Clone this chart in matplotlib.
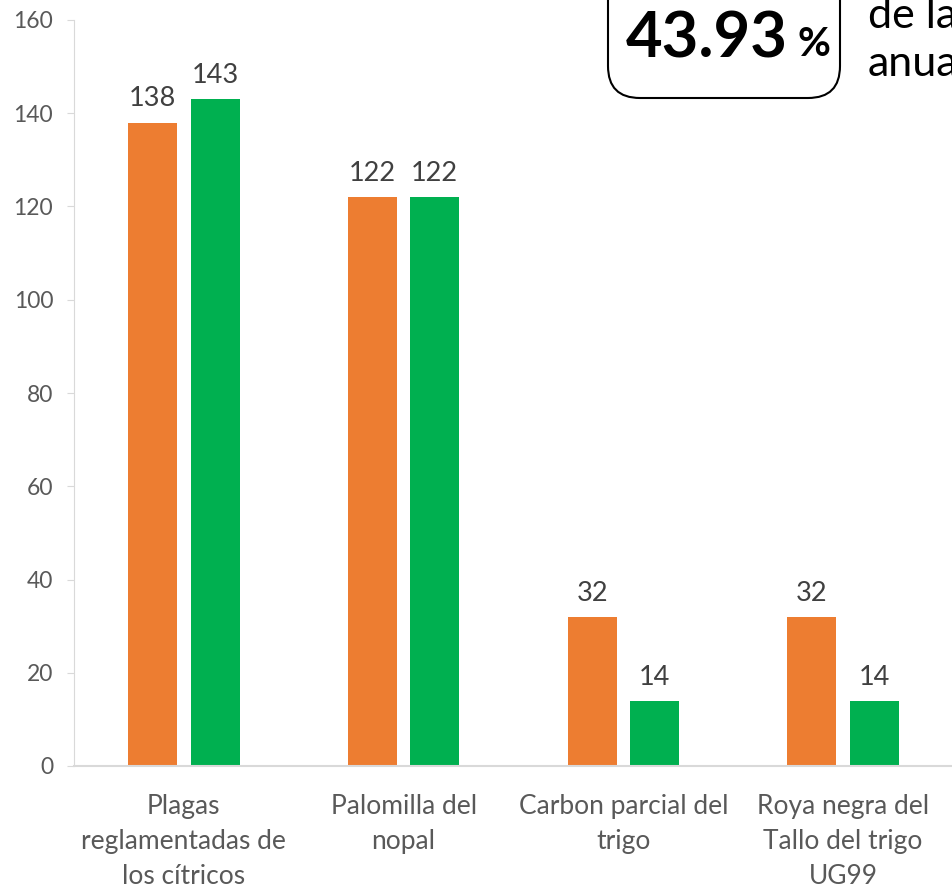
import matplotlib.pyplot as plt
import matplotlib.patches as mpatches
from matplotlib.transforms import IdentityTransform
import numpy as np

plt.rcParams['font.family'] = ['Lato', 'DejaVu Sans']

# Datos
categorias = ['Plagas\nreglamentadas de\nlos cítricos', 'Palomilla del\nnopal',
              'Carbon parcial del\ntrigo', 'Roya negra del\nTallo del trigo\nUG99']
serie_naranja = [138, 122, 32, 32]
serie_verde = [143, 122, 14, 14]
yticks = [0, 20, 40, 60, 80, 100, 120, 140, 160]

naranja = '#ED7D31'
verde = '#00B050'
gris = '#D9D9D9'

fig = plt.figure(figsize=(9.53, 8.88), dpi=100)
ax = fig.add_axes([74 / 953, 1 - 766 / 888, 1 - 74 / 953, (766 - 20) / 888])

x = np.arange(len(categorias))
ancho = 0.223
desp = 0.142
b1 = ax.bar(x - desp, serie_naranja, ancho, color=naranja)
b2 = ax.bar(x + desp, serie_verde, ancho, color=verde)
for barras in (b1, b2):
    ax.bar_label(barras, padding=8, fontsize=19.5, color='#404040')

ax.set_xlim(-0.5, 3.5)
ax.set_ylim(0, 160)
ax.set_yticks(yticks)
ax.set_xticks(x)
ax.set_xticklabels(categorias, fontsize=19, color='#595959', linespacing=1.5)
ax.tick_params(axis='x', length=0, pad=20)
ax.tick_params(axis='y', length=5, color=gris, labelsize=16.5, labelcolor='#595959', pad=10)
for lado in ('top', 'right'):
    ax.spines[lado].set_visible(False)
ax.spines['left'].set_color(gris)
ax.spines['bottom'].set_color(gris)
ax.spines['bottom'].set_linewidth(1.5)

# Recuadro con el porcentaje (cortado arriba)
caja = mpatches.FancyBboxPatch((608 + 32, 888 - 98 + 32), 232 - 64, 200,
                               boxstyle='round,pad=32', transform=IdentityTransform(),
                               facecolor='white', edgecolor='black', linewidth=1.5,
                               clip_on=False)
fig.patches.append(caja)
fig.text(626 / 953, 1 - 40 / 888, '43.93', fontsize=45.5, fontweight='bold',
         ha='left', va='center', color='black')
fig.text(798 / 953, 1 - 44 / 888, '%', fontsize=29, fontweight='bold',
         ha='left', va='center', color='black')
fig.text(868 / 953, 1 - 40 / 888, 'de la\nanual', fontsize=31, ha='left', va='center',
         color='black', linespacing=1.3)

fig.savefig('out.png', dpi=100)
